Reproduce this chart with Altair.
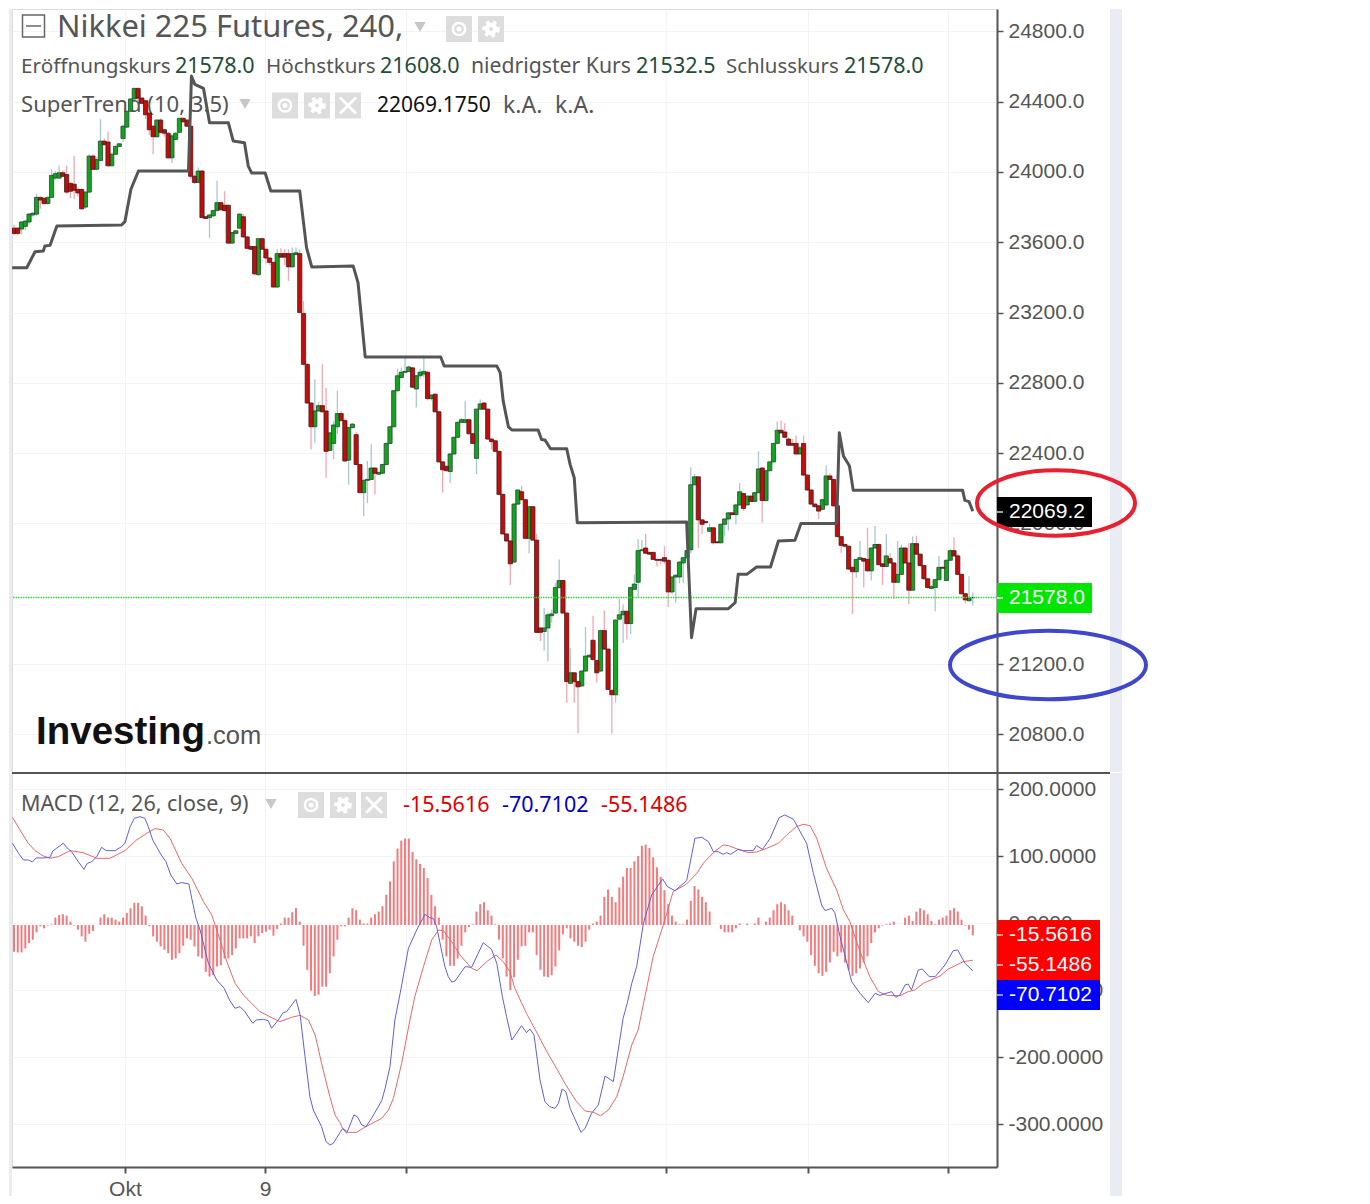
import altair as alt
import pandas as pd

# ---------- candle data (4h bars) ----------
OPEN = [23680,23680,23675,23690,23715,23755,23760,23855,23850,23820,
23855,23965,23965,23995,23985,23935,23930,23900,23900,23800,
23885,24090,24015,24065,24175,24170,24035,24100,24145,24190,
24255,24345,24415,24475,24420,24405,24335,24260,24200,24295,
24240,24220,24080,24185,24225,24305,24295,24260,23975,23940,
24005,23745,23740,23750,23780,23825,23810,23810,23595,23650,
23680,23745,23630,23575,23575,23415,23620,23560,23510,23485,
23345,23535,23535,23535,23460,23530,23535,23195,22905,22685,
22550,22640,22670,22640,22415,22455,22550,22625,22585,22360,
22545,22505,22335,22175,22245,22250,22315,22280,22285,22335,
22455,22550,22755,22830,22860,22865,22885,22765,22840,22850,
22860,22710,22735,22635,22350,22325,22295,22395,22490,22575,
22575,22590,22510,22370,22650,22685,22650,22480,22470,22410,
22165,21940,21900,21780,22110,22180,22135,21915,22095,21905,
21405,21385,21405,21475,21490,21635,21675,21490,21090,21150,
21100,21075,21160,21240,21335,21220,21160,21390,21285,21050,
21025,21455,21480,21500,21430,21625,21665,21845,21860,21835,
21835,21795,21795,21805,21790,21610,21695,21695,21775,21805,
21850,22220,22265,22020,22010,21955,21975,21895,21890,21995,
22025,22060,22050,22105,22170,22105,22155,22125,22175,22315,
22130,22300,22350,22455,22530,22520,22480,22455,22455,22395,
22455,22275,22190,22110,22100,22080,22105,22270,22250,22100,
21925,21880,21870,21750,21725,21795,21800,21795,21730,21860,
21880,21770,21755,21800,21775,21665,21710,21860,21775,21620,
21885,21825,21760,21685,21630,21635,21680,21750,21675,21790,
21845,21815,21710,21600,21560,21578]
HIGH = [23700,23685,23720,23725,23765,23770,23875,23860,23855,23860,
24015,24005,24035,24010,24035,23940,24090,23910,23905,23890,
24100,24100,24085,24300,24190,24230,24110,24150,24165,24270,
24350,24420,24480,24480,24425,24410,24340,24265,24300,24305,
24245,24225,24215,24225,24310,24310,24300,24265,23985,24025,
24010,23750,23760,23785,23950,23830,23890,23815,23660,23670,
23765,23760,23635,23580,23580,23625,23625,23565,23515,23490,
23560,23565,23560,23560,23570,23570,23560,23265,22910,22690,
22820,22690,22905,22770,22520,22580,22755,22640,22600,22550,
22570,22520,22340,22250,22355,22450,22320,22295,22340,22460,
22555,22760,22880,22885,22955,22900,22890,22845,22880,22955,
22870,22735,22740,22640,22355,22330,22400,22495,22580,22600,
22695,22595,22515,22655,22705,22690,22655,22485,22475,22415,
22170,21945,21905,22115,22195,22215,22140,22100,22100,21940,
21410,21520,21490,21510,21660,21795,21680,21495,21290,21155,
21105,21165,21410,21255,21475,21225,21395,21505,21290,21055,
21455,21570,21540,21505,21640,21710,21910,21905,21940,21840,
21840,21800,21800,21870,21795,21700,21710,21785,21810,21850,
22320,22280,22270,22025,22015,22000,21980,21900,22000,22030,
22065,22065,22110,22230,22175,22160,22160,22180,22410,22320,
22305,22355,22460,22580,22585,22570,22490,22480,22500,22440,
22500,22280,22195,22115,22105,22140,22330,22285,22255,22105,
21930,21885,21875,21755,21800,21900,21805,21975,21865,21985,
21885,21775,21940,21830,21780,21900,21880,21865,21890,21925,
21930,21830,21765,21690,21650,21685,21815,21755,21795,21855,
21920,21830,21715,21605,21700,21608]
LOW = [23640,23640,23645,23670,23700,23745,23750,23790,23815,23815,
23850,23955,23960,23970,23875,23850,23845,23860,23785,23790,
23880,24010,24010,24060,24150,24030,24030,24095,24140,24170,
24250,24340,24410,24400,24385,24300,24210,24100,24195,24215,
24200,24075,24050,24180,24220,24280,24255,23960,23930,23935,
23735,23730,23625,23745,23775,23780,23775,23590,23590,23645,
23675,23625,23560,23555,23410,23410,23555,23480,23470,23340,
23340,23510,23470,23380,23455,23525,23195,22900,22680,22420,
22460,22635,22630,22260,22410,22365,22510,22580,22350,22220,
22540,22330,22170,22040,22115,22245,22165,22275,22280,22330,
22450,22545,22750,22825,22855,22860,22770,22660,22820,22830,
22700,22700,22630,22345,22175,22295,22230,22390,22485,22570,
22570,22505,22450,22280,22645,22645,22475,22420,22405,22160,
21935,21895,21650,21775,22105,22130,21910,21830,21900,21375,
21330,21275,21215,21435,21485,21630,21485,20980,21085,20980,
20805,21070,21155,21235,21220,21095,21155,21280,21050,20805,
20980,21450,21320,21340,21370,21620,21580,21840,21825,21820,
21790,21755,21770,21770,21525,21600,21550,21660,21660,21800,
21830,22215,21860,21940,22000,21950,21880,21885,21885,21930,
21960,22045,21995,22100,22070,22100,22120,22120,22170,22005,
22125,22295,22345,22450,22510,22485,22440,22440,22390,22390,
22270,22185,22105,22090,22025,22075,22100,22245,22095,21920,
21830,21860,21735,21485,21690,21790,21635,21725,21675,21855,
21760,21650,21750,21770,21570,21660,21705,21770,21540,21615,
21820,21755,21680,21630,21625,21500,21675,21740,21670,21785,
21810,21705,21595,21545,21555,21532.5]
CLOSE = [23650,23650,23715,23720,23760,23765,23855,23840,23820,23855,
23980,23990,23995,23975,23885,23890,23895,23880,23790,23885,
24090,24015,24070,24175,24155,24035,24100,24145,24160,24260,
24345,24415,24475,24420,24390,24325,24240,24200,24295,24225,
24220,24080,24205,24220,24305,24285,24260,23975,23940,24005,
23740,23735,23755,23780,23825,23785,23780,23595,23655,23665,
23760,23630,23565,23560,23420,23620,23560,23510,23485,23345,
23535,23515,23515,23460,23535,23540,23200,22905,22685,22550,
22640,22670,22635,22410,22515,22560,22625,22585,22355,22545,
22565,22335,22175,22245,22250,22315,22285,22290,22335,22455,
22550,22755,22840,22860,22865,22890,22775,22840,22860,22865,
22710,22730,22635,22350,22305,22300,22395,22490,22575,22590,
22590,22510,22455,22650,22680,22650,22480,22465,22410,22165,
21940,21900,21770,22110,22190,22135,21915,22095,21905,21380,
21380,21405,21480,21485,21635,21675,21490,21100,21150,21100,
21070,21160,21245,21250,21225,21150,21390,21285,21055,21025,
21450,21480,21500,21430,21635,21655,21845,21850,21830,21825,
21795,21790,21790,21785,21610,21695,21705,21780,21805,21845,
22220,22265,22020,21995,22005,21975,21890,21890,21995,22025,
22060,22050,22105,22180,22085,22155,22125,22175,22310,22130,
22300,22350,22455,22530,22515,22490,22445,22445,22395,22430,
22275,22190,22110,22095,22070,22135,22270,22250,22100,21925,
21875,21870,21740,21725,21795,21805,21785,21730,21860,21880,
21765,21755,21815,21775,21665,21710,21860,21775,21620,21885,
21825,21760,21685,21635,21640,21680,21750,21745,21790,21845,
21815,21710,21600,21565,21575,21578]

# ---------- SuperTrend (10, 3.5) ----------
ST_BAR = [-0.5,3.4,5.6,7.8,8.2,9.6,11.4,28.6,29.5,31.1,33.1,46.4,47.2,48.1,50.4,52,57,58.3,61.3,62.3,63.2,66.8,68.3,76,77.8,79.2,
90.2,91.5,93.4,113.5,114.4,128.4,129.3,130.1,131.5,132.4,139.4,140.3,141.2,142.7,147,147.9,149,149.8,
178.9,180.2,181.4,190,191.8,192.6,194.9,197.5,201.2,203.3,207.7,209.3,218.8,219.5,220.6,222.2,223.2,252.3,252.9,254,255]
ST_VAL = [23455,23455,23546,23550,23578,23582,23692,23698,23717,23901,24005,24005,24545,24498,24475,24280,24280,24176,24166,24033,23994,23994,23891,23891,23569,23459,
23465,23370,22947,22947,22896,22896,22858,22697,22549,22532,22532,22478,22475,22425,22425,22336,22260,22004,
22008,21350,21515,21515,21549,21710,21710,21752,21752,21900,21904,21999,21999,22516,22384,22327,22188,22188,22131,22124,22069.2]

# ---------- MACD ----------
BLUE_BAR = [-0.4,1.2,2.5,3.8,4.9,5.9,7.8,9.6,10.3,11.3,13.1,14.5,15.3,17.1,18.6,19.5,20.7,22,23.3,24.5,26.9,28.6,29.5,30.9,32,33.5,34.8,35.7,36.9,37.9,39,40.4,41.7,43.3,44.6,46.5,47,48.4,49.5,51.7,53.9,55.9,57.3,58.8,60.1,61.4,63.5,64.4,66.3,67.6,68.5,70.3,71.6,72.5,75,76.1,77.4,78.7,79.6,81.8,83,84,
84.9,87.4,88.5,90.4,91.3,92.5,93.6,95.1,97.8,98.7,100,101.3,102.7,104.9,107.1,109.3,110.5,111.5,112.4,114.6,115.5,116.4,117.3,120,121.7,124.8,125.9,127,128.4,129.9,131,132.4,135,136.3,137.2,138.3,139.9,141.2,142.5,143.9,144.8,145.8,146.8,147.9,150.8,151.9,153.6,155.4,157.2,159.4,162,163.1,164.3,165.6,167.4,169.6,172.5,
173.8,175.8,178.9,181.1,182.9,184.7,186,187.3,188.6,189.5,190.6,191.7,192.6,194,196.6,197.5,199.1,201.1,203.5,205,207.3,208.6,210.8,212.6,214.8,215.7,217.5,218.3,219.7,222.8,225,227.2,229,230.3,233.4,234.5,235.6,237,237.8,238.7,240.5,241.6,243.4,245,247.6,249.8,251,252.9,255]
BLUE_VAL = [119.4,104.5,94.5,94.5,91.5,97.5,97.5,98.5,107.9,111.9,119.4,110.4,106.9,92,80.6,89.5,92,99.5,113.4,108.4,108.4,114.4,119.4,144.3,156.7,159.2,156.7,144.3,124.4,114.4,103.4,92,72.1,58.7,60.7,58.7,44.8,7.4,-10,-59.7,-84.6,-97,-114.4,-126.9,-124.4,-131.9,-149.3,-144.3,-143.3,-145.3,-156.7,-144.3,-133.4,-131.9,-113.5,-136.8,-199,-258.7,-278.6,-303.5,-325.9,-330.9,
-328.4,-306,-313.4,-286.1,-288.6,-301,-303.5,-291,-264.7,-246.3,-214,-144.3,-104.5,-37.3,-10,13.4,8.4,7.4,-5,-64.7,-79.6,-87.6,-86.1,-64.7,-65.7,-28.9,-33.9,-38.8,-59.7,-109.5,-139.3,-174.2,-152.8,-163.2,-157.7,-166.7,-233.9,-266.2,-273.7,-276.1,-268.7,-247.3,-251.3,-276.1,-312,-306,-283.6,-271.2,-227.9,-236.3,-141.8,-119.4,-89.6,-64.7,0,42.3,66.1,
54.7,48.7,63.7,126.8,128.3,121.9,106.9,106.9,103,105.4,103,106.9,110.4,108.4,108.4,115.9,110.4,126.8,157.7,161.7,155.2,141.8,119.4,74.6,27.3,18.9,22.4,15.9,-20,-87.1,-104.5,-118.4,-104.5,-107.5,-102,-110.5,-107,-92,-90.6,-99.5,-69.7,-68.2,-79.6,-79.6,-62.2,-40.8,-39.8,-59.7,-70.71]
RED_BAR = [-0.4,1.6,3.8,5.6,7.8,9.6,11.8,14.9,18.4,22,25.5,29.5,32.6,35.3,37.5,39.7,41.5,44.6,47.3,50.4,52.6,54.8,56.6,58.8,61,65.4,70.7,73.8,76.1,78.3,80.1,81.8,84,85.4,86.7,
87.4,88.9,91.1,93.3,95.6,97.8,99.6,100.9,103.1,105.3,106.6,108.9,111.1,112.9,114.2,116.4,118.6,121.7,123.2,125.7,128.2,130.1,131.9,133.2,136.3,139.4,141.7,144.3,146.5,149.6,151.9,154.1,156,158.1,160.3,162,164.3,166,167.8,170,173.1,
175.3,178.9,181.6,183.3,186,188.6,190,192.6,195.3,197.5,200.2,203.3,205.5,208.1,209.9,211.7,213.5,216.1,218.8,220.6,222.3,225,227.6,229.9,232.1,235.6,237.8,239.6,241.8,246.3,248.5,252.5,255]
RED_VAL = [158.2,139.2,119.4,108.4,100.5,97,99.5,108.4,105.4,97,97,108.4,124.4,134.3,141.3,139.2,126.8,89.5,67.1,32.3,12.4,-24.9,-57.2,-89.6,-107,-131.9,-146.8,-140.3,-137.3,-144.3,-166.7,-209,-258.7,-286.1,-297.5,
-306,-312,-312,-304.5,-297.5,-291,-278.6,-261.2,-209,-144.3,-109.5,-64.7,-24.9,-10,-11,-27.4,-47.3,-67.2,-70.7,-57.2,-47.3,-57.2,-72.2,-97,-134.4,-166.7,-191.6,-216.4,-238.8,-266.2,-280.1,-282.1,-287.1,-278.6,-258.7,-228.9,-181.6,-159.2,-109.5,-49.8,5,
47.2,58.7,74.6,89.5,105.4,116.9,115.9,110.4,105.4,106.4,111.9,119.4,131.8,144.3,147.7,145.7,126.8,82.1,49.7,19.9,2.5,-42.3,-79.6,-102,-107.5,-108,-102,-99.5,-89.6,-78.6,-68.2,-57.2,-55.15]
HIST = [-40,-41,-41,-35,-27,-22,-11,-2,-5,-1,
1,11,15,16,14,5,-1,-7,-17,-25,
-13,-9,0,11,16,11,11,8,5,11,
18,25,33,33,28,14,-2,-17,-25,-32,
-37,-42,-52,-50,-42,-31,-20,-22,-32,-47,
-50,-70,-77,-75,-62,-60,-50,-50,-45,-35,
-20,-20,-20,-17,-27,-17,-12,-10,-7,-16,
-6,2,11,11,19,25,5,-31,-67,-98,
-106,-104,-92,-92,-72,-47,-22,-2,-2,11,
25,22,8,2,2,11,16,20,28,45,
65,95,114,126,129,129,109,98,91,85,
70,45,28,11,-22,-47,-61,-61,-50,-31,
-11,-3,1,20,31,34,22,14,1,-22,
-50,-77,-97,-78,-52,-32,-31,-11,-11,-45,
-67,-77,-78,-75,-62,-38,-14,-5,-20,-25,
-31,-33,-25,-7,2,5,14,42,53,42,
34,56,72,85,85,95,103,118,120,115,
101,86,72,52,31,14,5,1,1,8,
36,58,53,42,34,20,0,0,-6,-11,
-11,-11,-5,2,0,2,0,2,11,0,
5,11,22,31,34,31,22,14,0,-8,
-17,-25,-45,-61,-72,-76,-70,-56,-40,-47,
-41,-56,-67,-76,-72,-65,-56,-47,-27,-11,
-5,-1,1,2,5,0,0,11,14,6,
20,25,22,16,6,1,8,11,14,22,
25,20,8,-1,-7,-15.56]
HIST_ZERO = -2.5

PRICE_TICKS = [20800,21200,21600,22000,22400,22800,23200,23600,24000,24400,24800]
MACD_TICKS = [200,100,0,-100,-200,-300]
TIME_TICKS = [29.5,66.8,104.3,173.4,211.2,248.4]
TIME_LABELS = {29.5:"Okt",66.8:"9"}

GREY="#555555"; GRID="#f1f3f8"; BAND="#e9ecf3"; SANS="Noto Sans"; AX="Liberation Sans"
GREEN_V="#1f4d38"
W=985; H1=763; H2=394
bars=list(range(len(OPEN)))
candles=pd.DataFrame({"bar":bars,"open":OPEN,"high":HIGH,"low":LOW,"close":CLOSE})
candles["dir"]=["up" if c>=o else "down" for o,c in zip(OPEN,CLOSE)]
trend=pd.DataFrame({"bar":ST_BAR,"v":ST_VAL})
blue=pd.DataFrame({"bar":BLUE_BAR,"v":BLUE_VAL})
red=pd.DataFrame({"bar":RED_BAR,"v":RED_VAL})
hist=pd.DataFrame({"bar":bars,"h":HIST}); hist["v"]=hist["h"]+HIST_ZERO; hist["z"]=HIST_ZERO
ONE=pd.DataFrame({"a":[0]})

xscale=alt.Scale(domain=[-0.532,261.44],nice=False,zero=False,padding=0)
yp=alt.Scale(domain=[20585.5,24926.9],nice=False,zero=False)
ym=alt.Scale(domain=[-363.7,224.3],nice=False,zero=False)
xtop=alt.Axis(values=TIME_TICKS,grid=True,gridColor=GRID,labels=False,ticks=False,domain=False,title=None)
lab=" : ".join(f"datum.value=={k}?'{v}'" for k,v in TIME_LABELS.items())+" : ''"
xbot=alt.Axis(values=TIME_TICKS,grid=True,gridColor=GRID,labelExpr=lab,labelFont=AX,labelFontSize=21,labelColor=GREY,
              tickColor=GREY,tickSize=6,tickWidth=2,domainColor=GREY,domainWidth=2,labelPadding=5,title=None,labelOverlap=False)
ytop=alt.Axis(orient="right",values=PRICE_TICKS,grid=True,gridColor=GRID,labelExpr="format(datum.value,'.1f')",labelFont=AX,
              labelFontSize=21,labelColor=GREY,tickColor=GREY,tickSize=6,tickWidth=1.5,domainColor=GREY,domainWidth=2,labelPadding=5,title=None,labelOverlap=False,labelBound=False,labelFlush=False)
ybot=alt.Axis(orient="right",values=MACD_TICKS,grid=True,gridColor=GRID,labelExpr="datum.value<0?'-'+format(-datum.value,'.4f'):format(datum.value,'.4f')",labelFont=AX,
              labelFontSize=21,labelColor=GREY,tickColor=GREY,tickSize=6,tickWidth=1.5,domainColor=GREY,domainWidth=2,labelPadding=5,title=None,labelOverlap=False,labelBound=False,labelFlush=False)

def text(s,x,y0,ytop_off,size,color=GREY,font=SANS,weight="normal",align="left"):
    return alt.Chart(ONE).mark_text(align=align,baseline="middle",font=font,fontSize=size,color=color,fontWeight=weight).encode(
        x=alt.value(x-12),y=alt.value(y0-ytop_off),text=alt.value(s))
def pt(x,y,off,shape,size,fill=None,stroke=None,sw=1.0,dash=None):
    kw=dict(shape=shape,size=size,opacity=1)
    if fill: kw.update(filled=True,fill=fill,strokeWidth=0)
    else: kw.update(filled=False,stroke=stroke,strokeWidth=sw)
    if dash: kw.update(strokeDash=dash)
    return alt.Chart(ONE).mark_point(**kw).encode(x=alt.value(x-12),y=alt.value(y-off))
def seg(x1,x2,y1,y2,off,color,sw):
    return alt.Chart(ONE).mark_rule(color=color,strokeWidth=sw).encode(x=alt.value(x1-12),x2=alt.value(x2-12),y=alt.value(y1-off),y2=alt.value(y2-off))
def box(x1,x2,y1,y2,off,color):
    return alt.Chart(ONE).mark_rect(color=color).encode(x=alt.value(x1-12),x2=alt.value(x2-12),y=alt.value(y1-off),y2=alt.value(y2-off))
def icons(xs,y,off,kinds):
    out=[]
    for x,k in zip(xs,kinds):
        out.append(pt(x,y,off,"square",26*26,fill="#dddddd"))
        if k=="eye":
            out.append(pt(x,y,off,"circle",150,stroke="#ffffff",sw=2.5)); out.append(pt(x,y,off,"circle",25,fill="#ffffff"))
        elif k=="gear":
            out.append(pt(x,y,off,"circle",70,stroke="#ffffff",sw=4.5))
            out.append(pt(x,y,off,"circle",210,stroke="#ffffff",sw=3,dash=[3.5,3.7]))
        else:
            out.append(seg(x-8,x+8,y-8,y+8,off,"#ffffff",3)); out.append(seg(x-8,x+8,y+8,y-8,off,"#ffffff",3))
    return out
def ellipse_path(r):
    k=0.5523
    return (f"M-1,0 C-1,{-k*r:.3f} {-k:.3f},{-r:.3f} 0,{-r:.3f} C{k:.3f},{-r:.3f} 1,{-k*r:.3f} 1,0 "
            f"C1,{k*r:.3f} {k:.3f},{r:.3f} 0,{r:.3f} C{-k:.3f},{r:.3f} -1,{k*r:.3f} -1,0 Z")
ELL_R=ellipse_path(0.415)
ELL_B=ellipse_path(0.35)
TRI="#c8c8c8"

X=lambda ax: alt.X("bar:Q",scale=xscale,axis=ax)
top_back=[
 alt.Chart(candles).mark_rule(opacity=0).encode(x=X(xtop),y=alt.Y("close:Q",scale=yp,axis=ytop)),
 text("Nikkei 225 Futures, 240,",57,27,8,30.9),
 pt(33.5,25,8,"square",22*22,stroke="#666666",sw=1.5), seg(26,41,25,25,8,"#666666",1.5),
 pt(420,26,8,"triangle-down",130,fill=TRI),
 *icons([459,491],28,8,["eye","gear"]),
 text("Eröffnungskurs",21,66,8,20.7), text("21578.0",175,66,8,21.5,GREEN_V),
 text("Höchstkurs",266,66,8,20.6), text("21608.0",380,66,8,21.5,GREEN_V),
 text("niedrigster Kurs",471,66,8,21.2), text("21532.5",636,66,8,21.5,GREEN_V),
 text("Schlusskurs",726,66,8,20.4), text("21578.0",844,66,8,21.5,GREEN_V),
 text("SuperTrend (10, 3.5)",21,104,8,22.1),
 pt(245,103,8,"triangle-down",130,fill=TRI),
 *icons([285,317,348],104.5,8,["eye","gear","x"]),
 text("22069.1750",377,105,8,21,"#111111"),
 text("k.A.",503,105,8,23), text("k.A.",555,105,8,23),
 text("Investing",36,731,8,38.5,"#111111",AX,"bold"),
 text(".com",206,735,8,25.5,"#555555",AX),
]
def wick(d,c):
    return alt.Chart(candles).transform_filter(f"datum.dir=='{d}'").mark_rule(color=c,strokeWidth=1.3).encode(
        x=X(xtop),y=alt.Y("low:Q",scale=yp,axis=ytop),y2="high:Q")
def body(d,f,s):
    return alt.Chart(candles).transform_filter(f"datum.dir=='{d}'").mark_bar(size=4.2,fill=f,stroke=s,strokeWidth=0.8,orient="vertical").encode(
        x=X(xtop),y=alt.Y("open:Q",scale=yp,axis=ytop),y2="close:Q")
price_rule=alt.Chart(ONE).mark_rule(color="#33e033",strokeWidth=1.4,strokeDash=[1.5,1]).encode(y=alt.Y(datum=21578,scale=yp,axis=ytop))
st_line=alt.Chart(trend).mark_line(color=GREY,strokeWidth=3,strokeJoin="round").encode(
    x=X(xtop),y=alt.Y("v:Q",scale=yp,axis=ytop),order="bar:Q")
top_front=[
 wick("up","#a9c8d4"),wick("down","#f1a9b1"),
 body("up","#12a41f","#24492e"),body("down","#c30d0d","#421c1c"),
 price_rule,st_line,
 box(9,12,8,771,8,BAND), box(1110,1122,8,771,8,BAND),
 box(997,1092,496,526,8,"#000000"), seg(997,1003,511,511,8,"#dddddd",1.5), text("22069.2",1009,511,8,21,"#ffffff",AX),
 box(997,1092,582,612,8,"#00e600"), seg(997,1003,597,597,8,"#ffffff",1.5), text("21578.0",1009,597,8,21,"#ffffff",AX),
 pt(1056,502,8,ELL_R,158*158,stroke="#e8202f",sw=4),
 pt(1048,664,8,ELL_B,196*196,stroke="#3f48cc",sw=4),
]
top=alt.layer(*top_back,*top_front).properties(width=W,height=H1)

bot=alt.layer(
 alt.Chart(hist).mark_rule(opacity=0).encode(x=X(xbot),y=alt.Y("v:Q",scale=ym,axis=ybot)),
 alt.Chart(hist).mark_bar(size=2,color="#f27b7d",orient="vertical").encode(x=X(xbot),y=alt.Y("v:Q",scale=ym,axis=ybot),y2="z:Q"),
 alt.Chart(red).mark_line(color="#ee6666",strokeWidth=1).encode(x=X(xbot),y=alt.Y("v:Q",scale=ym,axis=ybot),order="bar:Q"),
 alt.Chart(blue).mark_line(color="#5f5fe0",strokeWidth=1).encode(x=X(xbot),y=alt.Y("v:Q",scale=ym,axis=ybot),order="bar:Q"),
 text("MACD (12, 26, close, 9)",21,805,773,21.5),
 pt(271,804,773,"triangle-down",130,fill=TRI),
 *icons([311,343,374],805,773,["eye","gear","x"]),
 text("-15.5616",403,806,773,21.5,"#e00000"), text("-70.7102",502,806,773,21.5,"#0000c8"), text("-55.1486",601,806,773,21.5,"#e00000"),
 box(997,1100,920,950,773,"#ff0000"), seg(997,1003,935,935,773,"#ffbbbb",1.5), text("-15.5616",1009,935,773,21,"#ffffff",AX),
 box(997,1100,950,980,773,"#ff0000"), seg(997,1003,965,965,773,"#ffbbbb",1.5), text("-55.1486",1009,965,773,21,"#ffffff",AX),
 box(997,1100,980,1010,773,"#0000ff"), seg(997,1003,995,995,773,"#bbbbff",1.5), text("-70.7102",1009,995,773,21,"#ffffff",AX),
 box(9,12,773,1196,773,BAND), box(1110,1122,773,1196,773,BAND),
 seg(12,1110,773,773,773,GREY,2),
).properties(width=W,height=H2)

chart=alt.vconcat(top,bot,spacing=-5).resolve_scale(y="independent").properties(padding=0
 ).configure_view(stroke=None).configure(background="#ffffff")
chart.save("out.html", embed_options={"renderer":"svg","actions":False})
